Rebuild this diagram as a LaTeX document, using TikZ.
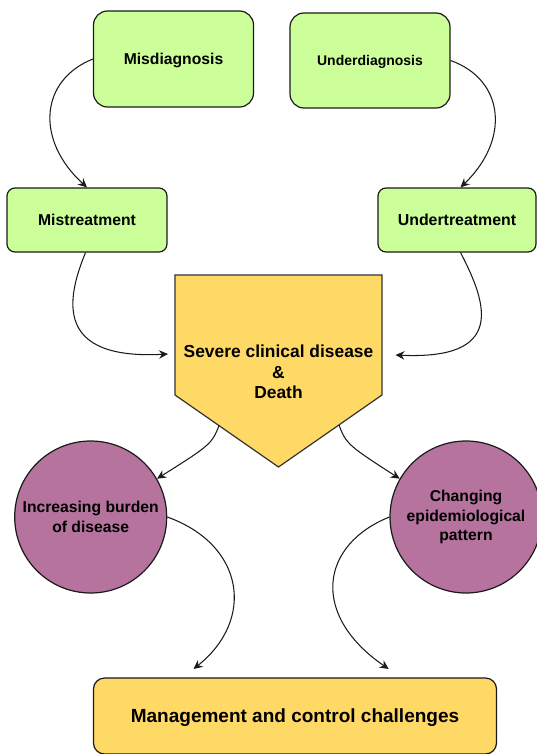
\documentclass[tikz,border=0pt]{standalone}
\usepackage{fontspec}
\setmainfont{Liberation Sans}
\usetikzlibrary{arrows.meta}
\definecolor{boxgreen}{HTML}{CCFF99}
\definecolor{boxyellow}{HTML}{FFD966}
\definecolor{circpurple}{HTML}{B5739D}
\definecolor{edgecol}{HTML}{1A1A1A}
\begin{document}
\begin{tikzpicture}[x=1pt,y=-1pt,
  greenbox/.style={draw=edgecol, line width=1.2pt, fill=boxgreen, rounded corners=#1, inner sep=0pt, align=center, text depth=0pt},
  greenbox/.default=14pt,
  circnode/.style={circle, draw=edgecol, line width=1.2pt, fill=circpurple, minimum size=152pt, inner sep=0pt, align=center, font=\bfseries\fontsize{15.7}{19.5}\selectfont},
  sevshape/.style={draw=edgecol!75!gray, line width=1.2pt, fill=boxyellow},
  mgmtbox/.style={draw=edgecol, line width=1.2pt, fill=boxyellow, rounded corners=11pt, inner sep=0pt, text depth=0pt, font=\bfseries\fontsize{19}{22}\selectfont},
  conn/.style={line width=1.05pt, draw=edgecol, -{Stealth[length=9pt,width=8.5pt,inset=3pt]}}
]
\useasboundingbox (0,0) rectangle (537,754);

% top boxes
\node[greenbox, minimum width=160pt, minimum height=96pt, font=\bfseries\fontsize{15.7}{18}\selectfont] (mis) at (173.5,59) {Misdiagnosis};
\node[greenbox, minimum width=160pt, minimum height=95pt, font=\bfseries\fontsize{14}{16}\selectfont] (und) at (370,60.5) {Underdiagnosis};
\node[greenbox=8pt, minimum width=160pt, minimum height=64pt, font=\bfseries\fontsize{15.7}{18}\selectfont] (mist) at (87,220) {Mistreatment};
\node[greenbox=8pt, minimum width=158pt, minimum height=64pt, font=\bfseries\fontsize{15.9}{18}\selectfont] (undt) at (457,220) {Undertreatment};

% central pentagon
\draw[sevshape] (175,275) -- (382,275) -- (382,395) -- (278.5,467) -- (175,395) -- cycle;
\node[align=center, inner sep=0pt, font=\bfseries\fontsize{17.4}{20.5}\selectfont] (sev) at (278.5,372) {Severe clinical disease\\\&\\Death};
\coordinate (sevL) at (168,354);
\coordinate (sevR) at (395.5,355);
\coordinate (sevBL) at (219,425.6);
\coordinate (sevBR) at (339,425);

% circles
\node[circnode] (burden) at (90.7,517) {Increasing burden\\of disease};
\node[circnode] (epi) at (466,517) {Changing\\epidemiological\\pattern};

% bottom box
\node[mgmtbox, minimum width=403pt, minimum height=76pt] (mgmt) at (295,716) {Management and control challenges};
\coordinate (mgmtL) at (193.5,669);
\coordinate (mgmtR) at (388.7,669);

% connectors
\draw[conn] (mis.west) .. controls (40,80) and (35,140) .. (mist.north);
\draw[conn] (und.east) .. controls (505,80) and (510,140) .. ([xshift=3.5pt]undt.north);
\draw[conn] ([xshift=-1.5pt]mist.south) .. controls (66,300) and (55,360) .. (sevL);
\draw[conn] ([xshift=3.5pt]undt.south) .. controls (488,305) and (505,360) .. (sevR);
\draw[conn] (sevBL) .. controls (212,444) and (209,446) .. (burden.30);
\draw[conn] (sevBR) .. controls (346,444) and (349,446) .. (epi.150);
\draw[conn] (burden.east) .. controls (245,545) and (255,620) .. (mgmtL);
\draw[conn] (epi.west) .. controls (320,545) and (310,615) .. (mgmtR);
\end{tikzpicture}
\end{document}
